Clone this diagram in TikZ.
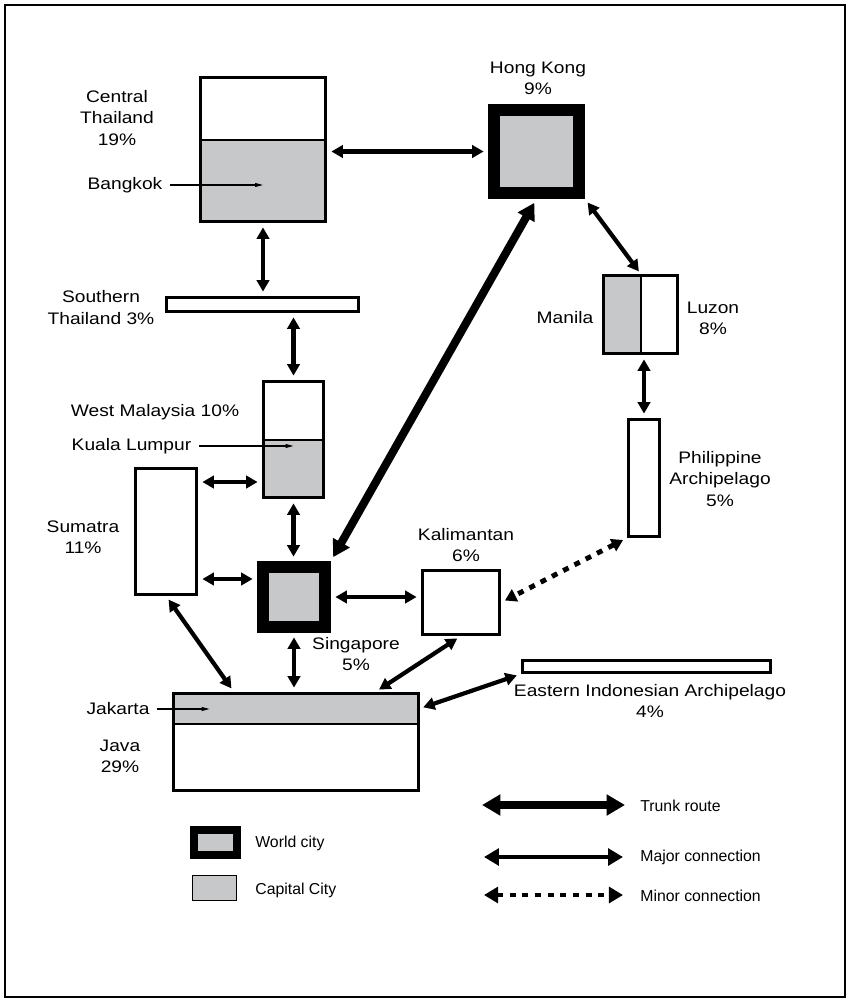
\documentclass[tikz,border=0pt]{standalone}
\usepackage{fontspec}
\setmainfont{Liberation Sans}[FakeStretch=1.15]
\newfontfamily\legendfont{Liberation Sans}
\usepackage{xcolor}
\usepackage{tikz}
\usetikzlibrary{arrows.meta,calc}
\definecolor{capgray}{RGB}{199,200,202}

\begin{document}
\begin{tikzpicture}[x=0.02cm, y=-0.02cm,
  region/.style={draw, line width=1.7pt, inner sep=0pt},
  capital/.style={draw, fill=capgray, line width=0.6pt, inner sep=0pt},
  world/.style={draw, fill=capgray, line width=#1, inner sep=0pt},
  wh/.style 2 args={minimum width=#1*0.02cm, minimum height=#2*0.02cm},
  lbl/.style={align=center, font=\fontsize{9.5}{12}\selectfont, inner sep=1pt},
  key/.style={anchor=west, inner sep=0pt, font=\legendfont\fontsize{9}{11}\selectfont},
  major/.style={{Triangle[length=6.5pt,width=7pt]}-{Triangle[length=6.5pt,width=7pt]}, line width=2.4pt, shorten <=2.5pt, shorten >=2.5pt},
  trunk/.style={{Triangle[length=9.5pt,width=10.5pt]}-{Triangle[length=9.5pt,width=10.5pt]}, line width=4.6pt, shorten <=2.5pt, shorten >=2.5pt},
  minor/.style={{Triangle[length=6.5pt,width=7.5pt]}-{Triangle[length=6.5pt,width=7.5pt]}, line width=2.8pt, dash pattern=on 3.4pt off 3.8pt, shorten <=2.5pt, shorten >=2.5pt},
  pointer/.style={-{Triangle[length=4.5pt,width=2.2pt]}, line width=0.6pt, shorten <=3pt},
  keyarrow/.style={shorten <=0pt, shorten >=0pt},
  bigtips/.style={{Triangle[length=#1,width=#1+1pt]}-{Triangle[length=#1,width=#1+1pt]}}]
  \useasboundingbox (0,0) rectangle (849,1000);
  \draw[line width=1.2pt] (5,5) rectangle (845,997);

  \node[capital, wh={125}{81.5}] (bkk) at (263,180.75) {};
  \node[capital, wh={60}{57.5}] (kl) at (293.5,468.75) {};
  \node[capital, wh={37.5}{78}] (mnl) at (622.25,314.5) {};
  \node[capital, wh={245}{30.5}] (jkt) at (296,708.75) {};

  \node[region, wh={125}{144}] (ct) at (263,149.5) {};
  \node[world=7.1pt, wh={84.5}{82.5}] (hk) at (536.5,151.5) {};
  \node[region, wh={192}{14}] (sth) at (262.5,304.5) {};
  \node[region, wh={60}{116}] (wm) at (293.5,439.5) {};
  \node[region, wh={61}{126}] (sum) at (166,531.5) {};
  \node[world=7.1pt, wh={61.5}{59.5}] (sg) at (294,597) {};
  \node[region, wh={77}{64}] (kal) at (461,602.5) {};
  \node[region, wh={74}{78}] (luz) at (640.5,314.5) {};
  \node[region, wh={31}{117}] (phil) at (644,478) {};
  \node[region, wh={248}{12}] (eia) at (646.5,666.5) {};
  \node[region, wh={245}{97}] (java) at (296,742) {};

  \node[lbl] (ctlbl) at (117,118) {Central\\Thailand\\19\%};
  \node[lbl] (bkklbl) at (125,185) {Bangkok};
  \node[lbl] (hklbl) at (538,78) {Hong Kong\\9\%};
  \node[lbl] (sthlbl) at (101,307.5) {Southern\\Thailand 3\%};
  \node[lbl] (wmlbl) at (155,412) {West Malaysia 10\%};
  \node[lbl] (kllbl) at (131.5,446) {Kuala Lumpur};
  \node[lbl] (sumlbl) at (83,537) {Sumatra\\11\%};
  \node[lbl] (sglbl) at (356,654) {Singapore\\5\%};
  \node[lbl] (kallbl) at (466,545) {Kalimantan\\6\%};
  \node[lbl] (mnllbl) at (565,318) {Manila};
  \node[lbl] (luzlbl) at (713,318) {Luzon\\8\%};
  \node[lbl] (phillbl) at (720,479) {Philippine\\Archipelago\\5\%};
  \node[lbl] (eialbl) at (650,701) {Eastern Indonesian Archipelago\\4\%};
  \node[lbl] (jktlbl) at (118,709) {Jakarta};
  \node[lbl] (javalbl) at (120,756) {Java\\29\%};

  \draw[pointer] (bkklbl.east) -- (bkklbl.east -| bkk);
  \draw[pointer] (kllbl.east) -- (kllbl.east -| kl);
  \draw[pointer] (jktlbl.east) -- ++(58,0);

  \draw[major] (ct.east |- hk.west) -- (hk.west);
  \draw[major] (ct.south) -- (ct.south |- sth.north);
  \draw[major] (wm.north |- sth.south) -- (wm.north);
  \draw[major] (wm.south) -- (wm.south |- sg.north);
  \draw[major] (sum.east |- 0,482) -- (wm.west |- 0,482);
  \draw[major] (sum.east |- 0,579) -- (sg.west |- 0,579);
  \draw[major] (sg.east) -- (kal.west |- sg.east);
  \draw[trunk] (hk.south) -- (sg.north east);
  \draw[major] (hk.south east) -- (mnl.north east);
  \draw[major] (phil.north |- luz.south) -- (phil.north);
  \draw[minor] (phil.south west) -- (kal.east);
  \draw[major] (kal.south) -- ($(java.north west)!0.82!(java.north east)$);
  \draw[major] (eia.south west) -- (jkt.east);
  \draw[major] (sum.south) -- ($(java.north west)!0.25!(java.north east)$);
  \draw[major] (sg.south) -- (sg.south |- java.north);

  \node[world=4.5pt, wh={43}{25}] (wckey) at (215.5,842.5) {};
  \node[capital, line width=0.7pt, wh={44}{25}] (cckey) at (214.5,888) {};
  \node[key] (wclbl) at (255,843) {World city};
  \node[key] (cclbl) at (255,890) {Capital City};
  \coordinate (tr1) at (482,805);
  \coordinate (tr2) at (625,805);
  \coordinate (mj1) at (484,857);
  \coordinate (mj2) at (623,857);
  \coordinate (mn1) at (484,895);
  \coordinate (mn2) at (623,895);
  \draw[trunk, keyarrow, bigtips=10.5pt] (tr1) -- (tr2);
  \draw[major, keyarrow, line width=2.8pt, bigtips=8.5pt] (mj1) -- (mj2);
  \draw[minor, keyarrow, bigtips=8pt] (mn1) -- (mn2);
  \node[key] (trlbl) at (640,806) {Trunk route};
  \node[key] (mjlbl) at (640,857) {Major connection};
  \node[key] (mnlbl) at (640,896) {Minor connection};
\end{tikzpicture}
\end{document}
